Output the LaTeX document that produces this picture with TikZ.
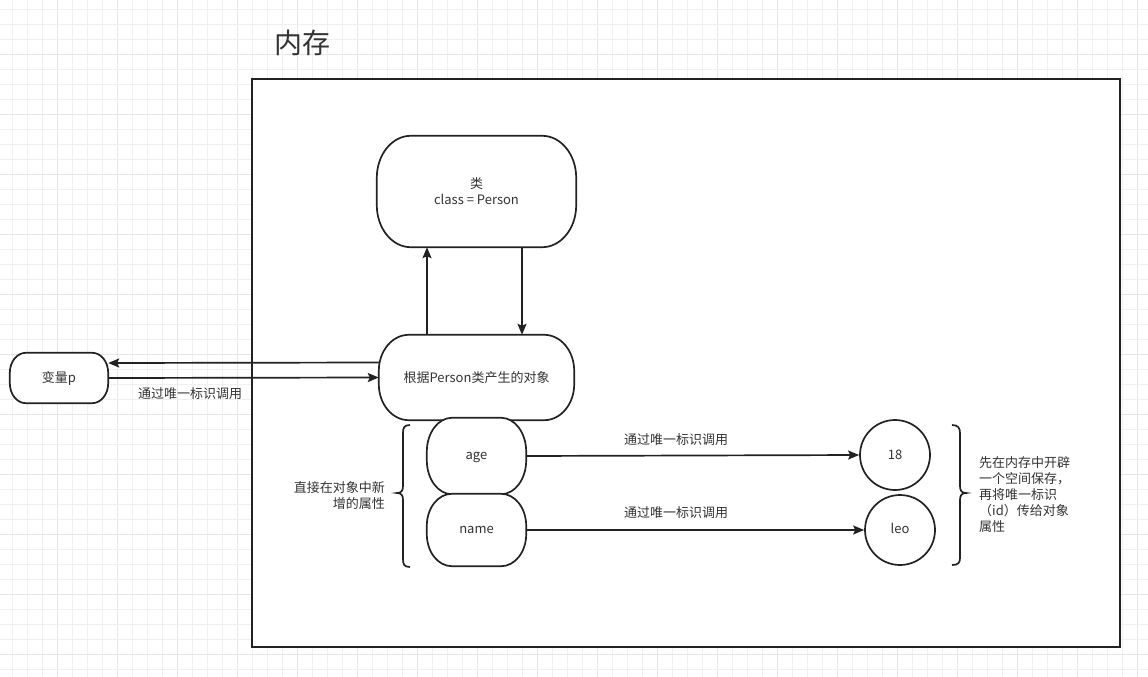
\documentclass[tikz,border=0pt]{standalone}
\usepackage{fontspec}
\setmainfont{Noto Sans CJK SC}
\usetikzlibrary{arrows.meta}
\definecolor{txt}{HTML}{333333}
\definecolor{ln}{HTML}{222222}
\definecolor{gridminor}{HTML}{F0F0F0}
\definecolor{gridmajor}{HTML}{E6E6E6}
\pgfdeclarelayer{gridlayer}
\pgfdeclarelayer{back}
\pgfsetlayers{gridlayer,back,main}
\newcommand\capsule[3]{%
  \draw[capline] ([xshift=#2pt]#1.north west) -- ([xshift=-#2pt]#1.north east)
    arc[start angle=90,end angle=0,x radius=#2pt,y radius=#3pt]
    -- ([yshift=#3pt]#1.south east)
    arc[start angle=0,end angle=-90,x radius=#2pt,y radius=#3pt]
    -- ([xshift=#2pt]#1.south west)
    arc[start angle=270,end angle=180,x radius=#2pt,y radius=#3pt]
    -- ([yshift=-#3pt]#1.north west)
    arc[start angle=180,end angle=90,x radius=#2pt,y radius=#3pt] -- cycle;}
\begin{document}
\begin{tikzpicture}[x=1pt,y=-1pt,
  capline/.style={draw=ln,line width=1.7pt,fill=white},
  box/.style={draw=none,inner sep=0pt,text=txt,font=\fontsize{13}{16}\selectfont,align=center},
  latin/.style={text height=7pt,text depth=0pt},
  circ/.style={circle,draw=ln,line width=1.7pt,fill=white,minimum size=70pt,inner sep=0pt,text=txt,font=\fontsize{13}{16}\selectfont},
  lbl/.style={text=txt,font=\fontsize{13}{16}\selectfont,inner sep=0pt},
  arr/.style={draw=ln,line width=1.7pt,-{Stealth[length=11pt,width=9pt,inset=2pt]}},
  bracel/.style={draw=ln,line width=1.7pt}]
\useasboundingbox (0,0) rectangle (1148,677);
\begin{pgfonlayer}{gridlayer}
  \fill[white] (0,0) rectangle (1148,677);
  \foreach \i in {0,...,76}{
    \pgfmathtruncatemacro\m{mod(\i,4)}
    \ifnum\m=3
      \draw[gridmajor,line width=1pt] ({12.7+15*\i},0) -- ({12.7+15*\i},677);
    \else
      \draw[gridminor,line width=1pt] ({12.7+15*\i},0) -- ({12.7+15*\i},677);
    \fi}
  \foreach \i in {0,...,45}{
    \pgfmathtruncatemacro\m{mod(\i,4)}
    \ifnum\m=3
      \draw[gridmajor,line width=1pt] (0,{9.3+15*\i}) -- (1148,{9.3+15*\i});
    \else
      \draw[gridminor,line width=1pt] (0,{9.3+15*\i}) -- (1148,{9.3+15*\i});
    \fi}
  \draw[draw=ln,line width=2pt,fill=white] (252,79) rectangle (1120,647);
\end{pgfonlayer}

\node[text=txt,font=\fontsize{28}{32}\selectfont,inner sep=0pt] (title) at (302,43) {内存};

\node[box,minimum width=199pt,minimum height=111pt] (cls) at (476.5,191.5) {类\\class = Person};
\node[box,minimum width=195pt,minimum height=85pt] (obj) at (476.5,377.5) {根据Person类产生的对象};
\node[box,minimum width=98pt,minimum height=50pt] (var) at (59,378) {变量p};
\node[box,latin,minimum width=99pt,minimum height=76pt] (age) at (476.5,456) {age};
\node[box,latin,minimum width=99pt,minimum height=72pt] (nm) at (476.5,530) {name};
\begin{pgfonlayer}{back}
  \capsule{cls}{34}{42}
  \capsule{obj}{30}{36}
  \capsule{var}{16}{20}
  \capsule{age}{25}{34}
  \capsule{nm}{25}{32}
\end{pgfonlayer}

\node[circ] (v18) at (895,455) {18};
\node[circ,latin] (leo) at (900,530) {leo};

\draw[arr] ([yshift=15pt]obj.west) -- ([yshift=15pt]var.east);
\draw[arr] (var.east) -- (obj.west);
\node[lbl] (l0) at (190,394) {通过唯一标识调用};

\draw[arr] ([xshift=-49.5pt]obj.north) -- ([xshift=-49.5pt]cls.south);
\draw[arr] ([xshift=45.5pt]cls.south) -- ([xshift=45.5pt]obj.north);

\draw[arr] (age.east) -- (v18.west);
\draw[arr] (nm.east) -- (leo.west);
\node[lbl] (l1) at (676,440) {通过唯一标识调用};
\node[lbl] (l2) at (676,513) {通过唯一标识调用};

\draw[bracel] (410,425) .. controls (404,425) and (403,428) .. (403,433) -- (403,486)
  .. controls (403,491) and (401,493) .. (397,493)
  .. controls (401,493) and (403,495) .. (403,500) -- (403,559)
  .. controls (403,564) and (404,567) .. (410,567);
\node[lbl,align=right,anchor=east] (tl) at (385,496) {直接在对象中新\\增的属性};

\draw[bracel] (952,425) .. controls (958,425) and (960,428) .. (960,433) -- (960,486)
  .. controls (960,491) and (962,493) .. (966,493)
  .. controls (962,493) and (960,495) .. (960,500) -- (960,558)
  .. controls (960,563) and (958,565) .. (952,565);
\node[lbl,align=left,anchor=west] (tr) at (979,495) {先在内存中开辟\\一个空间保存，\\再将唯一标识\\（id）传给对象\\属性};
\end{tikzpicture}
\end{document}
